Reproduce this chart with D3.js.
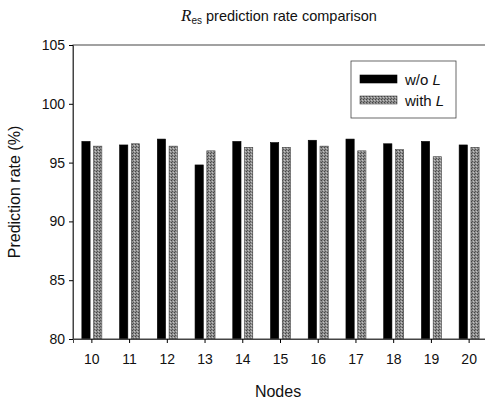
<!DOCTYPE html>
<html>
<head>
<meta charset="utf-8">
<script src="https://cdn.jsdelivr.net/npm/d3@7"></script>
<style>
  body { margin: 0; background: #fff; }
  text { font-family: "Liberation Sans", Arial, sans-serif; fill: #111; }
</style>
</head>
<body>
<div id="chart"></div>
<script>
// Data
var nodes = ["10", "11", "12", "13", "14", "15", "16", "17", "18", "19", "20"];
var withoutL = [96.8, 96.5, 97.0, 94.8, 96.8, 96.7, 96.9, 97.0, 96.6, 96.8, 96.5];
var withL = [96.4, 96.6, 96.4, 96.0, 96.3, 96.3, 96.4, 96.0, 96.1, 95.5, 96.3];
var yTicks = [80, 85, 90, 95, 100, 105];
var seriesNames = ["w/o L", "with L"];

function init() {
    var w = 485;
    var h = 401;
    var padding = { top: 45, right: -3, bottom: 62, left: 73 };

    var svg = d3.select("#chart")
        .append("svg")
        .attr("width", w)
        .attr("height", h);

    // gray stippled fill for the "with L" bars
    var defs = svg.append("defs");
    var pat = defs.append("pattern")
        .attr("id", "stipple")
        .attr("width", 3)
        .attr("height", 3)
        .attr("patternUnits", "userSpaceOnUse");
    pat.append("rect").attr("width", 3).attr("height", 3).attr("fill", "#8e8e8e");
    pat.append("rect").attr("x", 0).attr("y", 0).attr("width", 1).attr("height", 1).attr("fill", "#444");
    pat.append("rect").attr("x", 2).attr("y", 1).attr("width", 1).attr("height", 1).attr("fill", "#c4c4c4");
    pat.append("rect").attr("x", 1).attr("y", 2).attr("width", 1).attr("height", 1).attr("fill", "#555");

    var xScale = d3.scaleBand()
        .domain(nodes)
        .range([padding.left, w - padding.right]);

    var xSub = d3.scaleBand()
        .domain(seriesNames)
        .range([-10, 10])
        .paddingInner(0.3);

    var yScale = d3.scaleLinear()
        .domain([80, 105])
        .range([h - padding.bottom, padding.top]);

    var fills = ["#000", "url(#stipple)"];
    var strokes = ["#000", "#444"];

    // bars
    [withoutL, withL].forEach(function(values, s) {
        svg.append("g")
            .selectAll("rect")
            .data(values)
            .enter()
            .append("rect")
            .attr("x", (d, i) => xScale(nodes[i]) + xScale.bandwidth() / 2 + xSub(seriesNames[s]))
            .attr("y", d => yScale(d))
            .attr("width", xSub.bandwidth())
            .attr("height", d => yScale(80) - yScale(d))
            .attr("fill", fills[s])
            .attr("stroke", strokes[s])
            .attr("stroke-width", 0.6);
    });

    // frame
    svg.append("rect")
        .attr("x", padding.left)
        .attr("y", yScale(105))
        .attr("width", xScale.range()[1] - padding.left)
        .attr("height", yScale(80) - yScale(105))
        .attr("fill", "none")
        .attr("stroke", "#444")
        .attr("stroke-width", 1);

    // axes
    var xAxis = svg.append("g")
        .attr("transform", "translate(0," + yScale(80) + ")")
        .call(d3.axisBottom(xScale).tickSize(4).tickPadding(11));
    xAxis.select(".domain").attr("stroke", "#444");
    xAxis.selectAll("text").style("font-size", "14px");

    var yAxis = svg.append("g")
        .attr("transform", "translate(" + padding.left + ",0)")
        .call(d3.axisLeft(yScale).tickValues(yTicks).tickSize(4).tickPadding(4));
    yAxis.select(".domain").attr("stroke", "#444");
    yAxis.selectAll("text").style("font-size", "14px");

    // title
    var title = svg.append("text")
        .attr("x", 279)
        .attr("y", 21)
        .attr("text-anchor", "middle")
        .style("font-size", "14.5px");
    title.append("tspan")
        .style("font-family", "'Liberation Serif', 'Times New Roman', serif")
        .style("font-style", "italic")
        .style("font-size", "17px")
        .text("R");
    title.append("tspan")
        .attr("dy", 3)
        .style("font-size", "10px")
        .text("es");
    title.append("tspan")
        .attr("dy", -3)
        .text(" prediction rate comparison");

    // axis labels
    svg.append("text")
        .attr("text-anchor", "middle")
        .attr("x", 278)
        .attr("y", 397)
        .style("font-size", "16px")
        .text("Nodes");

    svg.append("text")
        .attr("text-anchor", "middle")
        .attr("transform", "rotate(-90)")
        .attr("x", -192)
        .attr("y", 20)
        .style("font-size", "16px")
        .text("Prediction rate (%)");

    // legend
    var legend = svg.append("g");
    legend.append("rect")
        .attr("x", 351)
        .attr("y", 61)
        .attr("width", 105)
        .attr("height", 57)
        .attr("fill", "#fff")
        .attr("stroke", "#444")
        .attr("stroke-width", 0.8);

    seriesNames.forEach(function(name, s) {
        var yy = 75 + s * 21;
        legend.append("rect")
            .attr("x", 360)
            .attr("y", yy)
            .attr("width", 37)
            .attr("height", 8)
            .attr("fill", fills[s])
            .attr("stroke", strokes[s])
            .attr("stroke-width", 0.6);
        var t = legend.append("text")
            .attr("x", 405)
            .attr("y", yy + 10)
            .style("font-size", "15px");
        t.append("tspan").text(name.slice(0, -1));
        t.append("tspan").style("font-style", "italic").text("L");
    });
}

window.onload = init;
</script>
</body>
</html>
